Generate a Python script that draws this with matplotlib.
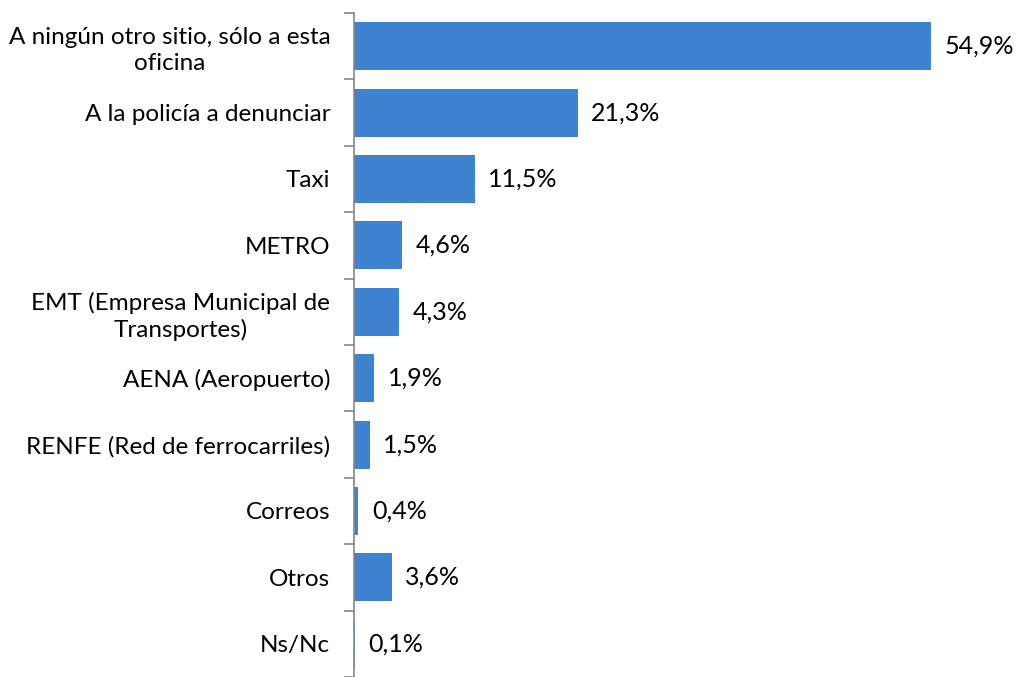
import matplotlib.pyplot as plt
import numpy as np

plt.rcParams['font.family'] = ['Lato', 'DejaVu Sans']

categories = [
    "A ningún otro sitio, sólo a esta\noficina",
    "A la policía a denunciar",
    "Taxi",
    "METRO",
    "EMT (Empresa Municipal de\nTransportes)",
    "AENA (Aeropuerto)",
    "RENFE (Red de ferrocarriles)",
    "Correos",
    "Otros",
    "Ns/Nc",
]
values = [54.9, 21.3, 11.5, 4.6, 4.3, 1.9, 1.5, 0.4, 3.6, 0.1]

fig = plt.figure(figsize=(10.18, 6.77), dpi=100)
ax = fig.add_axes([0.3477, 0.0, 0.619, 0.9808])

y = np.arange(len(categories))
ax.barh(y, values, height=0.72, color='#3F83D0')

for yi, v in zip(y, values):
    ax.text(v + 1.3, yi, f"{v:.1f}%".replace('.', ','), va='center', ha='left',
            fontsize=18, color='#000000')

ax.set_ylim(len(categories) - 0.5, -0.5)
ax.set_xlim(0, 60)
ax.set_yticks(y)
ax.set_yticklabels(categories, fontsize=17.5, multialignment='center', linespacing=1.3)
ax.tick_params(axis='y', which='major', length=0, pad=17)
ax.set_yticks(np.arange(-0.5, len(categories), 1), minor=True)
ax.tick_params(axis='y', which='minor', length=7, color='#868686', width=1.2)
ax.set_xticks([])

for s in ['top', 'right', 'bottom']:
    ax.spines[s].set_visible(False)
ax.spines['left'].set_color('#868686')
ax.spines['left'].set_linewidth(1.2)

fig.savefig('out.png', dpi=100)
